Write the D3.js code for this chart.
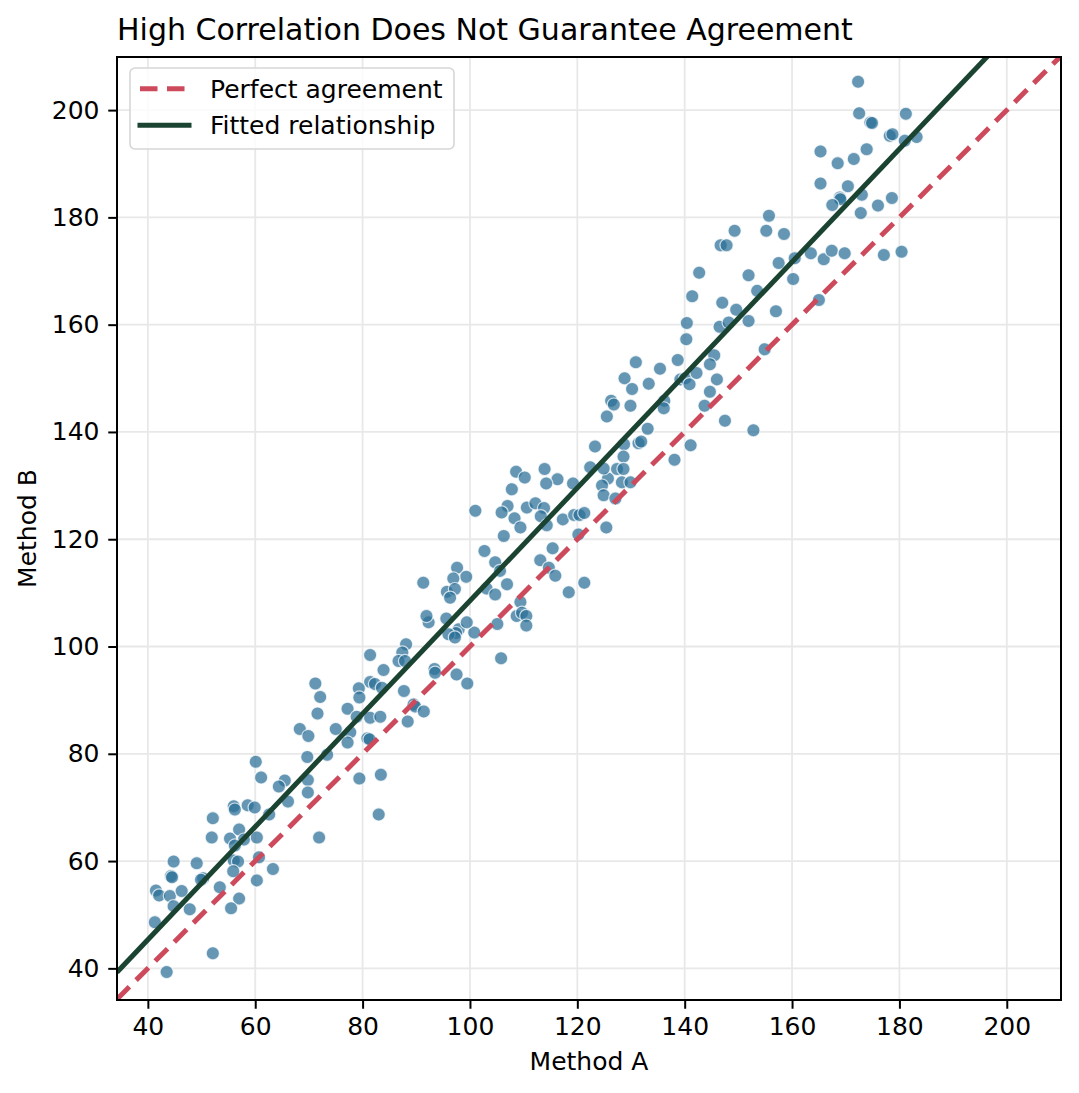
<!DOCTYPE html>
<html>
<head>
<meta charset="utf-8">
<script src="https://cdn.jsdelivr.net/npm/d3@7"></script>
<style>
  body { margin: 0; background: #fff; }
  svg text { font-family: "DejaVu Sans", sans-serif; fill: #000; }
</style>
</head>
<body>
<div id="chart"></div>
<script>
// ---- data ----
const methodA = [
  60.1, 61.1, 69.7, 73.4, 65.5, 64.4, 69.8, 69.8, 66.1, 79.4,
  56.0, 56.2, 58.6, 59.9, 62.6, 52.1, 51.9, 55.3, 57.0, 57.9,
  56.2, 60.3, 71.9, 56.0, 56.8, 60.7, 55.9, 63.3, 60.3, 53.4,
  57.0, 55.5, 44.8, 49.1, 44.3, 44.5, 50.3, 49.9, 41.5, 42.1,
  44.1, 46.3, 44.8, 47.8, 41.3, 52.1, 43.5,
  92.3, 95.6, 97.9, 97.4, 96.0, 100.8, 99.4, 81.4, 88.1, 87.4,
  86.7, 87.9, 83.9, 93.4, 93.5, 97.5, 99.5, 71.2, 72.1, 71.6,
  81.4, 82.3, 83.6, 79.3, 79.4, 87.7, 77.2, 78.9, 81.4, 83.3,
  89.5, 89.8, 91.4, 88.4, 68.3, 69.9, 75.0, 77.7, 77.2, 80.9,
  81.3, 83.4, 83.0, 97.2,
  108.6, 110.2, 113.9, 116.3, 114.2, 119.2, 125.7, 107.8, 101.0, 107.0,
  105.9, 110.6, 112.2, 113.8, 113.2, 108.3, 109.4, 114.3, 117.3, 119.4,
  120.4, 121.3, 125.4, 120.2, 106.3, 102.7, 115.4, 104.7, 105.6, 113.1,
  114.7, 115.9, 97.6, 99.3, 96.9, 91.3, 95.7, 97.2, 96.3, 103.1,
  104.7, 106.9, 118.4, 121.3, 109.4, 108.7, 109.7, 110.5, 110.5, 105.1,
  91.9, 105.8,
  155.7, 149.3, 155.2, 158.5, 146.7, 147.8, 157.5, 142.7, 151.9, 153.5,
  141.4, 147.0, 149.6, 157.0, 140.4, 146.5, 148.2, 151.9, 140.3, 130.9,
  135.4, 138.7, 145.5, 144.7, 128.8, 133.3, 139.2, 140.1, 140.9, 142.2,
  146.0, 130.2, 144.7, 126.3, 126.8, 129.9, 136.2, 136.1, 143.7, 125.5,
  147.5, 152.8, 154.9, 133.1, 123.3, 131.4, 131.9, 128.7, 141.1, 138.1,
  122.4, 124.9, 127.4, 128.6, 128.6, 128.3, 129.9, 124.6, 124.9, 127.1,
  172.3, 172.5, 174.6, 174.9, 181.2, 178.2, 178.7, 181.0, 183.2, 165.3,
  173.9, 168.5, 171.5, 165.3, 170.4, 168.9, 169.0, 167.5, 173.0, 178.6,
  176.0, 172.8, 160.5, 163.5, 165.9, 167.4, 169.8, 177.1, 180.4, 160.2,
  165.0
];
const methodB = [
  78.5, 75.6, 79.4, 79.8, 75.0, 73.9, 75.1, 72.8, 71.1, 75.4,
  70.2, 69.6, 70.4, 70.0, 68.7, 68.0, 64.4, 64.2, 65.9, 64.0,
  62.9, 64.4, 64.4, 60.1, 59.9, 60.7, 58.1, 58.5, 56.4, 55.1,
  53.0, 51.2, 59.9, 59.6, 57.2, 57.0, 56.8, 56.5, 54.5, 53.6,
  53.5, 54.4, 51.6, 51.0, 48.6, 42.8, 39.3,
  104.5, 105.2, 103.2, 102.5, 102.3, 102.6, 104.5, 98.4, 100.4, 98.9,
  97.3, 97.3, 95.6, 95.8, 95.1, 94.8, 93.1, 93.1, 90.6, 87.5,
  93.4, 93.0, 92.3, 92.2, 90.5, 91.7, 88.4, 86.9, 86.7, 86.9,
  89.2, 88.8, 87.9, 86.0, 84.6, 83.3, 84.6, 84.0, 82.1, 82.9,
  82.7, 76.1, 68.7, 101.7,
  132.6, 131.5, 133.1, 131.2, 130.4, 130.4, 131.3, 129.3, 125.3, 126.2,
  125.0, 125.9, 126.7, 125.8, 124.3, 123.9, 122.2, 122.6, 123.7, 124.5,
  124.5, 124.9, 122.2, 120.9, 120.6, 117.8, 118.3, 115.7, 114.1, 116.1,
  114.7, 113.2, 114.7, 113.0, 112.7, 111.9, 110.2, 110.7, 109.1, 110.8,
  109.7, 111.6, 110.1, 111.9, 108.3, 105.7, 106.3, 105.7, 103.9, 104.2,
  105.7, 97.8,
  180.3, 177.5, 177.5, 176.9, 174.8, 174.8, 171.5, 169.7, 169.2, 166.3,
  165.3, 164.1, 162.8, 162.5, 160.3, 159.6, 160.4, 160.7, 157.3, 153.0,
  151.8, 153.4, 154.3, 152.6, 150.0, 149.0, 149.8, 150.0, 148.9, 151.0,
  149.8, 148.0, 147.5, 145.8, 145.1, 144.9, 145.8, 144.4, 144.9, 142.9,
  142.1, 140.3, 155.4, 140.6, 137.3, 137.9, 138.2, 137.7, 137.5, 134.8,
  133.4, 133.2, 133.1, 135.4, 133.1, 130.6, 130.6, 130.0, 128.2, 127.6,
  205.3, 199.4, 197.7, 197.6, 199.3, 195.2, 195.5, 194.3, 195.0, 192.3,
  192.7, 190.1, 190.9, 186.3, 185.8, 183.7, 183.4, 182.3, 184.2, 183.6,
  182.2, 180.8, 172.4, 173.3, 172.2, 173.8, 173.3, 173.0, 173.6, 168.5,
  164.6
];

const xTicks = [40, 60, 80, 100, 120, 140, 160, 180, 200];
const yTicks = [40, 60, 80, 100, 120, 140, 160, 180, 200];
const xDomain = [34.25, 210.1];
const yDomain = [34.1, 209.9];

const titleText = "High Correlation Does Not Guarantee Agreement";
const xLabelText = "Method A";
const yLabelText = "Method B";
const legendLabels = ["Perfect agreement", "Fitted relationship"];

// ---- layout ----
const width = 1079, height = 1093;
const margin = { top: 57, right: 18, bottom: 93, left: 117 };
const plotW = width - margin.left - margin.right;
const plotH = height - margin.top - margin.bottom;

const pointColor = "#2A6F97";
const idealColor = "#CD4A5C";
const fitColor = "#1B4332";

const svg = d3.select("#chart").append("svg")
  .attr("width", width)
  .attr("height", height);

const x = d3.scaleLinear().domain(xDomain).range([0, plotW]);
const y = d3.scaleLinear().domain(yDomain).range([plotH, 0]);

const g = svg.append("g")
  .attr("transform", `translate(${margin.left},${margin.top})`);

g.append("clipPath").attr("id", "plotClip")
  .append("rect").attr("width", plotW).attr("height", plotH);

// grid
g.append("g").selectAll("line").data(xTicks).join("line")
  .attr("x1", d => x(d)).attr("x2", d => x(d))
  .attr("y1", 0).attr("y2", plotH)
  .attr("stroke", "#e8e8e8").attr("stroke-width", 1.8);
g.append("g").selectAll("line").data(yTicks).join("line")
  .attr("y1", d => y(d)).attr("y2", d => y(d))
  .attr("x1", 0).attr("x2", plotW)
  .attr("stroke", "#e8e8e8").attr("stroke-width", 1.8);

// scatter
const points = methodA.map((a, i) => ({ a: a, b: methodB[i] }));
g.append("g").attr("clip-path", "url(#plotClip)")
  .selectAll("circle").data(points).join("circle")
  .attr("cx", d => x(d.a))
  .attr("cy", d => y(d.b))
  .attr("r", 6.6)
  .attr("fill", pointColor)
  .attr("fill-opacity", 0.72)
  .attr("stroke", "#fff")
  .attr("stroke-opacity", 0.72)
  .attr("stroke-width", 1.2);

// least squares fit
const meanA = d3.mean(methodA), meanB = d3.mean(methodB);
let sxy = 0, sxx = 0;
methodA.forEach((a, i) => {
  sxy += (a - meanA) * (methodB[i] - meanB);
  sxx += (a - meanA) * (a - meanA);
});
const slope = sxy / sxx;
const intercept = meanB - slope * meanA;

const lineGen = d3.line().x(d => x(d[0])).y(d => y(d[1]));
const lines = g.append("g").attr("clip-path", "url(#plotClip)");

lines.append("path")
  .datum([[xDomain[0], xDomain[0]], [xDomain[1], xDomain[1]]])
  .attr("d", lineGen)
  .attr("fill", "none")
  .attr("stroke", idealColor)
  .attr("stroke-width", 5)
  .attr("stroke-dasharray", "17.5,9.5");

lines.append("path")
  .datum(xDomain.map(v => [v, intercept + slope * v]))
  .attr("d", lineGen)
  .attr("fill", "none")
  .attr("stroke", fitColor)
  .attr("stroke-width", 5);

// axes
const xAxis = g.append("g")
  .attr("transform", `translate(0,${plotH})`)
  .call(d3.axisBottom(x).tickValues(xTicks).tickSize(8.75).tickPadding(8.75));
const yAxis = g.append("g")
  .call(d3.axisLeft(y).tickValues(yTicks).tickSize(8.75).tickPadding(8.75));
[xAxis, yAxis].forEach(ax => {
  ax.select(".domain").remove();
  ax.selectAll(".tick line").attr("stroke", "#000").attr("stroke-width", 2);
  ax.selectAll(".tick text")
    .attr("font-family", "DejaVu Sans, sans-serif")
    .attr("font-size", 25)
    .attr("fill", "#000");
});

// spines
g.append("rect")
  .attr("width", plotW).attr("height", plotH)
  .attr("fill", "none").attr("stroke", "#000").attr("stroke-width", 2);

// title and labels
svg.append("text")
  .attr("x", margin.left).attr("y", 40)
  .attr("font-size", 30)
  .text(titleText);

svg.append("text")
  .attr("x", margin.left + plotW / 2).attr("y", 1070)
  .attr("text-anchor", "middle")
  .attr("font-size", 25)
  .text(xLabelText);

svg.append("text")
  .attr("transform", `translate(36,${margin.top + plotH / 2}) rotate(-90)`)
  .attr("text-anchor", "middle")
  .attr("font-size", 25)
  .text(yLabelText);

// legend
const legend = svg.append("g").attr("transform", "translate(130,68)");
legend.append("rect")
  .attr("width", 324).attr("height", 81).attr("rx", 5)
  .attr("fill", "#fff").attr("fill-opacity", 0.8)
  .attr("stroke", "#d6d6d6").attr("stroke-width", 1.6);

legend.append("line")
  .attr("x1", 10).attr("x2", 59).attr("y1", 20.7).attr("y2", 20.7)
  .attr("stroke", idealColor).attr("stroke-width", 5)
  .attr("stroke-dasharray", "17.5,9.5");
legend.append("line")
  .attr("x1", 10).attr("x2", 59).attr("y1", 57.3).attr("y2", 57.3)
  .attr("stroke", fitColor).attr("stroke-width", 5)
  .attr("stroke-linecap", "square");

legend.selectAll("text.lab").data(legendLabels).join("text")
  .attr("class", "lab")
  .attr("x", 80)
  .attr("y", (d, i) => 29.5 + i * 36.6)
  .attr("font-size", 25)
  .text(d => d);
</script>
</body>
</html>
